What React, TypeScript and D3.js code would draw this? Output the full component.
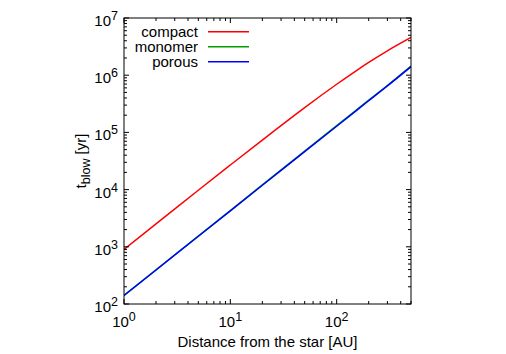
import React from "react";
import * as d3 from "d3";

const distances = [1, 2, 5, 10, 20, 50, 100, 150, 200, 300, 500];
const compact = [900, 2520, 9730, 26900, 73500, 271000, 695000, 1170000, 1670000, 2670000, 4560000];
const monomer = [141, 395, 1540, 4300, 12100, 47000, 131000, 238000, 366000, 660000, 1440000];
const porous = [141, 393, 1530, 4250, 11900, 46100, 128000, 233000, 358000, 650000, 1410000];

const seriesNames = ["compact", "monomer", "porous"];
const seriesColors = ["#ff0000", "#00a000", "#0000ff"];
const seriesValues = [compact, monomer, porous];

const xTickLabels = [1, 10, 100];
const yTickExps = [2, 3, 4, 5, 6, 7];

const W = 506;
const H = 354;
const L = 124, R = 411, T = 18, B = 304;
const FONT = "'Liberation Sans', Arial, Helvetica, sans-serif";

export default function App() {
  const x = d3.scaleLog().domain([1, 500]).range([L, R]);
  const y = d3.scaleLog().domain([100, 1e7]).range([B, T]);

  const xMinor: number[] = [];
  for (let e = 0; e <= 2; e++) for (let m = 2; m <= 9; m++) { const v = m * Math.pow(10, e); if (v <= 500) xMinor.push(v); }
  const yMinor: number[] = [];
  for (let e = 2; e <= 6; e++) for (let m = 2; m <= 9; m++) yMinor.push(m * Math.pow(10, e));

  const line = d3.line<[number, number]>()
    .x((d) => x(d[0]))
    .y((d) => y(d[1]))
    .curve(d3.curveNatural);

  const major = 5, minor = 3;

  return (
    <svg width={W} height={H} style={{ position: "absolute", left: 0, top: 0 }} fontFamily={FONT}>
      <rect x={0} y={0} width={W} height={H} fill="#fff" />
      <defs>
        <clipPath id="plotclip"><rect x={L} y={T} width={R - L} height={B - T} /></clipPath>
      </defs>
      <g clipPath="url(#plotclip)">
        {seriesValues.map((vals, i) => (
          <path key={i} d={line(distances.map((d, j) => [d, vals[j]] as [number, number])) || ""}
            fill="none" stroke={seriesColors[i]} strokeWidth={1.5} />
        ))}
      </g>
      <g stroke="#000" strokeWidth={1}>
        {xMinor.map((v, i) => (
          <g key={"xm" + i}>
            <line x1={x(v)} x2={x(v)} y1={B} y2={B - minor} />
            <line x1={x(v)} x2={x(v)} y1={T} y2={T + minor} />
          </g>
        ))}
        {xTickLabels.map((v, i) => (
          <g key={"xM" + i}>
            <line x1={x(v)} x2={x(v)} y1={B} y2={B - major} />
            <line x1={x(v)} x2={x(v)} y1={T} y2={T + major} />
          </g>
        ))}
        {yMinor.map((v, i) => (
          <g key={"ym" + i}>
            <line x1={L} x2={L + minor} y1={y(v)} y2={y(v)} />
            <line x1={R} x2={R - minor} y1={y(v)} y2={y(v)} />
          </g>
        ))}
        {yTickExps.map((e, i) => (
          <g key={"yM" + i}>
            <line x1={L} x2={L + major} y1={y(Math.pow(10, e))} y2={y(Math.pow(10, e))} />
            <line x1={R} x2={R - major} y1={y(Math.pow(10, e))} y2={y(Math.pow(10, e))} />
          </g>
        ))}
      </g>
      <rect x={L} y={T} width={R - L} height={B - T} fill="none" stroke="#000" strokeWidth={1} />
      {xTickLabels.map((v, i) => (
        <text key={"xl" + i} x={x(v)} y={B + 22.5} textAnchor="middle" fontSize={15} fill="#000">
          10<tspan fontSize={12.5} dy={-6}>{Math.round(Math.log10(v))}</tspan>
        </text>
      ))}
      {yTickExps.map((e, i) => (
        <text key={"yl" + i} x={L - 6} y={y(Math.pow(10, e)) + 8} textAnchor="end" fontSize={15} fill="#000">
          10<tspan fontSize={12.5} dy={-6}>{e}</tspan>
        </text>
      ))}
      <text x={(L + R) / 2} y={347} textAnchor="middle" fontSize={15} fill="#000">Distance from the star [AU]</text>
      <text transform={`translate(86,${(T + B) / 2}) rotate(-90)`} textAnchor="middle" fontSize={15} fill="#000">
        t<tspan fontSize={12.5} dy={4}>blow</tspan><tspan dy={-4}> [yr]</tspan>
      </text>
      {seriesNames.map((name, i) => {
        const cy = 31.7 + i * 15;
        return (
          <g key={"lg" + i}>
            <text x={198} y={cy + 5} textAnchor="end" fontSize={15} fill="#000">{name}</text>
            <line x1={208} x2={249} y1={cy} y2={cy} stroke={seriesColors[i]} strokeWidth={1.5} />
          </g>
        );
      })}
    </svg>
  );
}
